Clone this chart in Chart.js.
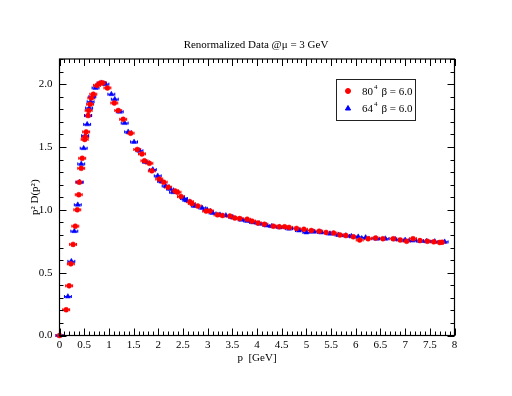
<!DOCTYPE html>
<html>
<head>
<meta charset="utf-8">
<script src="https://cdn.jsdelivr.net/npm/chart.js@4/dist/chart.umd.min.js"></script>
<style>
html,body{margin:0;padding:0;background:#fff;}
#wrap{width:512px;height:396px;}
</style>
</head>
<body>
<div id="wrap"><canvas id="c" width="512" height="396"></canvas></div>
<script>
// ---- data ----
const redP = [0, 0.135, 0.195, 0.23, 0.275, 0.32, 0.36, 0.39, 0.40, 0.44, 0.46, 0.51, 0.52, 0.54, 0.58, 0.59, 0.62, 0.645, 0.685, 0.76, 0.83, 0.88, 0.97, 1.11, 1.19, 1.29, 1.44, 1.575, 1.67, 1.72, 1.82, 1.87, 2.02, 2.11, 2.2, 2.34, 2.39, 2.46, 2.64, 2.68, 2.80, 2.97, 3.05, 3.2, 3.3, 3.45, 3.55, 3.65, 3.8, 3.9, 4.02, 4.15, 4.33, 4.45, 4.56, 4.65, 4.8, 4.95, 5.1, 5.26, 5.4, 5.55, 5.68, 5.8, 5.95, 6.08, 6.25, 6.4, 6.55, 6.76, 6.9, 7.03, 7.16, 7.3, 7.45, 7.58, 7.70, 7.75];
const redV = [0, 0.205, 0.395, 0.57, 0.725, 0.87, 1.0, 1.12, 1.22, 1.33, 1.41, 1.56, 1.58, 1.62, 1.75, 1.79, 1.84, 1.89, 1.92, 1.99, 2.01, 2.01, 1.97, 1.85, 1.79, 1.72, 1.61, 1.48, 1.445, 1.39, 1.37, 1.31, 1.245, 1.22, 1.18, 1.15, 1.14, 1.105, 1.065, 1.05, 1.03, 0.99, 0.99, 0.96, 0.955, 0.95, 0.935, 0.93, 0.925, 0.91, 0.895, 0.885, 0.87, 0.865, 0.865, 0.86, 0.852, 0.845, 0.835, 0.83, 0.82, 0.815, 0.80, 0.795, 0.785, 0.76, 0.77, 0.775, 0.77, 0.77, 0.76, 0.75, 0.77, 0.755, 0.75, 0.745, 0.74, 0.742];
const blueP = [0, 0.17, 0.24, 0.30, 0.37, 0.41, 0.44, 0.49, 0.52, 0.56, 0.58, 0.60, 0.63, 0.665, 0.73, 0.85, 0.93, 1.05, 1.12, 1.22, 1.32, 1.39, 1.51, 1.62, 1.75, 1.89, 1.99, 2.06, 2.15, 2.24, 2.30, 2.52, 2.57, 2.74, 2.89, 2.99, 3.1, 3.25, 3.37, 3.5, 3.69, 3.8, 3.92, 4.05, 4.19, 4.3, 4.46, 4.65, 4.85, 5.0, 5.15, 5.3, 5.48, 5.65, 5.8, 5.91, 6.05, 6.2, 6.42, 6.6, 6.8, 7.0, 7.15, 7.3, 7.43, 7.6, 7.80];
const blueV = [0, 0.31, 0.59, 0.83, 1.04, 1.22, 1.365, 1.49, 1.59, 1.68, 1.75, 1.81, 1.86, 1.90, 1.97, 2.01, 2.0, 1.92, 1.88, 1.78, 1.69, 1.62, 1.54, 1.47, 1.38, 1.32, 1.27, 1.225, 1.19, 1.165, 1.14, 1.09, 1.075, 1.03, 1.015, 1.0, 0.975, 0.96, 0.955, 0.94, 0.92, 0.912, 0.90, 0.89, 0.875, 0.87, 0.86, 0.85, 0.835, 0.82, 0.825, 0.82, 0.81, 0.80, 0.795, 0.79, 0.785, 0.78, 0.77, 0.77, 0.765, 0.76, 0.755, 0.752, 0.75, 0.748, 0.745];
const xErr = 0.07;
const xTickLabels = ['0','0.5','1','1.5','2','2.5','3','3.5','4','4.5','5','5.5','6','6.5','7','7.5','8'];
const yTickLabels = ['0.0','0.5','1.0','1.5','2.0'];
const seriesNames = ['80', '64'];
const titleText = 'Renormalized Data @\u03bc = 3 GeV';

const FONT = 'Liberation Serif';
const FS = 11;
const toPts = (xs, ys) => xs.map((x, i) => ({x: x, y: ys[i]}));

const frameTicks = {
  id: 'frameTicks',
  beforeDatasetsDraw(chart) {
    // error bars
    const ctx = chart.ctx, xs = chart.scales.x, ys = chart.scales.y;
    ctx.save();
    chart.data.datasets.forEach(ds => {
      ctx.strokeStyle = ds.borderColor;
      ctx.lineWidth = 1;
      ds.data.forEach(pt => {
        const x0 = xs.getPixelForValue(pt.x - xErr), x1 = xs.getPixelForValue(pt.x + xErr);
        const y = ys.getPixelForValue(pt.y);
        ctx.beginPath();
        ctx.moveTo(x0, y); ctx.lineTo(x1, y);
        ctx.moveTo(x0, y - 1.5); ctx.lineTo(x0, y + 1.5);
        ctx.moveTo(x1, y - 1.5); ctx.lineTo(x1, y + 1.5);
        ctx.stroke();
      });
    });
    ctx.restore();
  },
  afterDraw(chart) {
    const ctx = chart.ctx, a = chart.chartArea, xs = chart.scales.x, ys = chart.scales.y;
    ctx.save();
    ctx.strokeStyle = '#000';
    ctx.lineWidth = 1.2;
    ctx.strokeRect(a.left, a.top, a.right - a.left, a.bottom - a.top);
    ctx.lineWidth = 1;
    ctx.beginPath();
    for (let i = 0; i <= 80; i++) {
      const px = Math.round(xs.getPixelForValue(i / 10)) + 0.5;
      const len = (i % 5 === 0) ? 7 : 4;
      ctx.moveTo(px, a.bottom); ctx.lineTo(px, a.bottom - len);
      ctx.moveTo(px, a.top); ctx.lineTo(px, a.top + len);
    }
    for (let i = 0; i <= 22; i++) {
      const py = Math.round(ys.getPixelForValue(i / 10)) + 0.5;
      const len = (i % 5 === 0) ? 7 : 4;
      ctx.moveTo(a.left, py); ctx.lineTo(a.left + len, py);
      ctx.moveTo(a.right, py); ctx.lineTo(a.right - len, py);
    }
    ctx.stroke();

    // legend
    const bx = 336, by = 79, bw = 79, bh = 41;
    ctx.fillStyle = '#fff';
    ctx.fillRect(bx, by, bw, bh);
    ctx.strokeStyle = '#222';
    ctx.lineWidth = 1;
    ctx.strokeRect(bx + 0.5, by + 0.5, bw, bh);
    const rows = [
      {y: 91, color: '#ff0000', style: 'circle', r: 2.5, name: seriesNames[0]},
      {y: 108.5, color: '#0000ff', style: 'triangle', r: 3, name: seriesNames[1]}
    ];
    rows.forEach(r => {
      ctx.fillStyle = r.color; ctx.strokeStyle = r.color;
      Chart.helpers.drawPoint(ctx, {pointStyle: r.style, radius: r.r, borderWidth: 1}, 348, r.y);
      ctx.fillStyle = '#000';
      ctx.textBaseline = 'middle';
      ctx.textAlign = 'left';
      ctx.font = FS + 'px "' + FONT + '"';
      let x = 362;
      ctx.fillText(r.name, x, r.y + 1);
      x += ctx.measureText(r.name).width + 1;
      ctx.font = '7px "' + FONT + '"';
      ctx.fillText('4', x, r.y - 4);
      x += ctx.measureText('4').width + 4;
      ctx.font = FS + 'px "' + FONT + '"';
      ctx.fillText('\u03b2 = 6.0', x, r.y + 1);
    });
    ctx.restore();
  }
};

new Chart(document.getElementById('c'), {
  type: 'scatter',
  data: {
    datasets: [
      {
        label: seriesNames[0],
        data: toPts(redP, redV),
        backgroundColor: '#ff0000',
        borderColor: '#ff0000',
        pointStyle: 'circle',
        pointRadius: 2.5,
        pointBorderWidth: 0.5,
        clip: 6
      },
      {
        label: seriesNames[1],
        data: toPts(blueP, blueV),
        backgroundColor: '#0000ff',
        borderColor: '#0000ff',
        pointStyle: 'triangle',
        pointRadius: 3,
        pointBorderWidth: 0.5,
        clip: 6
      }
    ]
  },
  options: {
    responsive: false,
    animation: false,
    events: [],
    layout: {padding: 0},
    plugins: {
      legend: {display: false},
      tooltip: {enabled: false},
      title: {
        display: true,
        text: titleText,
        color: '#000',
        font: {family: FONT, size: FS, weight: 'normal'},
        padding: {top: 38.4, bottom: 7.4}
      }
    },
    scales: {
      x: {
        type: 'linear',
        min: 0, max: 8,
        grid: {display: false, drawTicks: false},
        border: {display: false},
        ticks: {
          stepSize: 0.5,
          color: '#000',
          padding: 3,
          maxRotation: 0,
          autoSkip: false,
          font: {family: FONT, size: FS},
          callback: (v) => { const i = Math.round(v * 2); return xTickLabels[i]; }
        },
        title: {
          display: true,
          text: 'p  [GeV]',
          color: '#000',
          font: {family: FONT, size: FS},
          padding: {top: 0, bottom: 31.7}
        },
        afterFit: (s) => { s.height = 60.5; }
      },
      y: {
        type: 'linear',
        position: 'left',
        min: 0, max: 2.2,
        grid: {display: false, drawTicks: false},
        border: {display: false},
        ticks: {
          stepSize: 0.5,
          color: '#000',
          padding: 7,
          font: {family: FONT, size: FS},
          callback: (v) => { const i = Math.round(v * 2); return (Math.abs(v * 2 - i) < 1e-6) ? yTickLabels[i] : ''; }
        },
        title: {
          display: true,
          text: 'p\u00b2 D(p\u00b2)',
          color: '#000',
          font: {family: FONT, size: FS},
          padding: {top: 28.4, bottom: 0}
        },
        afterFit: (s) => { s.width = 59.5; }
      },
      y2: {
        type: 'linear',
        position: 'right',
        display: true,
        grid: {display: false, drawTicks: false},
        border: {display: false},
        ticks: {display: false},
        afterFit: (s) => { s.width = 57.5; }
      }
    }
  },
  plugins: [frameTicks]
});
</script>
</body>
</html>
